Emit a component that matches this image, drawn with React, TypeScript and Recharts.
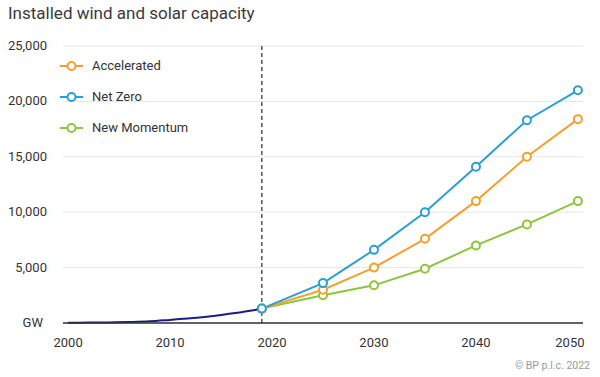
import React from "react";
import {
  LineChart, Line, XAxis, YAxis, CartesianGrid, ReferenceLine
} from "recharts";

const histYears = [2000, 2002, 2004, 2006, 2008, 2010, 2012, 2014, 2016, 2017, 2018, 2019];
const histValues = [20, 35, 55, 90, 150, 280, 420, 600, 850, 980, 1120, 1300];

const scenarioYears = [2019, 2025, 2030, 2035, 2040, 2045, 2050];
const accelerated = [1300, 3000, 5000, 7600, 11000, 15000, 18400];
const netZero = [1300, 3600, 6600, 10000, 14100, 18300, 21000];
const newMomentum = [1300, 2500, 3400, 4900, 7000, 8900, 11000];

const xTicks = [2000, 2010, 2020, 2030, 2040, 2050];
const yTicks = [0, 5000, 10000, 15000, 20000, 25000];

const COLORS = {
  hist: "#1c1c85",
  accelerated: "#f5a02e",
  netZero: "#2a9fd6",
  newMomentum: "#8cc63f",
};

const FONT = "Roboto, 'Noto Sans', sans-serif";

const histData = histYears.map((year, i) => ({ year, value: histValues[i] }));
const accData = scenarioYears.map((year, i) => ({ year, value: accelerated[i] }));
const nzData = scenarioYears.map((year, i) => ({ year, value: netZero[i] }));
const nmData = scenarioYears.map((year, i) => ({ year, value: newMomentum[i] }));

const legendItems = [
  { name: "Accelerated", color: COLORS.accelerated },
  { name: "Net Zero", color: COLORS.netZero },
  { name: "New Momentum", color: COLORS.newMomentum },
];

const LegendBox = () => (
  <div style={{ position: "absolute", left: 60, top: 50 }}>
    {legendItems.map((item) => (
      <div key={item.name} style={{ display: "flex", alignItems: "center", height: 31 }}>
        <svg width={23} height={12} style={{ marginRight: 9 }}>
          <line x1={0} y1={6} x2={23} y2={6} stroke={item.color} strokeWidth={2} />
          <circle cx={11.5} cy={6} r={4} fill="#fff" stroke={item.color} strokeWidth={2} />
        </svg>
        <span style={{ fontSize: 13, color: "#333", fontFamily: FONT }}>{item.name}</span>
      </div>
    ))}
  </div>
);

const YTick = ({ x, y, payload }: any) => {
  const label = payload.value === 0 ? "GW" : payload.value.toLocaleString("en-US");
  return (
    <text
      x={payload.value === 0 ? x - 4 : x}
      y={y}
      dy={4}
      textAnchor="end"
      fontSize={13}
      fill="#333"
      fontFamily={FONT}
    >
      {label}
    </text>
  );
};

const XTick = ({ x, y, payload }: any) => (
  <text
    x={payload.value === 2050 ? x - 8 : x}
    y={y}
    dy={10}
    textAnchor="middle"
    fontSize={13}
    fill="#333"
    fontFamily={FONT}
  >
    {payload.value}
  </text>
);

const dot = (color: string) => ({ r: 4, fill: "#fff", stroke: color, strokeWidth: 2 });

export default function App() {
  return (
    <div style={{ position: "absolute", left: 0, top: 0, width: 600, height: 377, background: "#fff", fontFamily: FONT }}>
      <div style={{ position: "absolute", left: 8, top: 3, fontSize: 17, color: "#3a3a3a" }}>
        Installed wind and solar capacity
      </div>
      <LineChart width={600} height={377} margin={{ top: 46, right: 17, left: 8, bottom: 24 }}>
        <CartesianGrid vertical={false} stroke="#e6e6e6" />
        <XAxis
          dataKey="year"
          type="number"
          domain={[1999.5, 2050.5]}
          ticks={xTicks}
          allowDataOverflow
          tickLine={false}
          axisLine={{ stroke: "#333", strokeWidth: 1.5 }}
          tick={<XTick />}
          tickMargin={8}
          height={30}
        />
        <YAxis
          type="number"
          domain={[0, 25000]}
          ticks={yTicks}
          axisLine={false}
          tickLine={false}
          tickMargin={10}
          width={55}
          tick={<YTick />}
        />
        <ReferenceLine x={2019} stroke="#555" strokeDasharray="4 3" strokeWidth={1.5} />
        <Line
          data={histData}
          dataKey="value"
          type="monotone"
          stroke={COLORS.hist}
          strokeWidth={2}
          dot={false}
          isAnimationActive={false}
        />
        <Line
          data={nmData}
          dataKey="value"
          name="New Momentum"
          stroke={COLORS.newMomentum}
          strokeWidth={2}
          dot={dot(COLORS.newMomentum)}
          isAnimationActive={false}
        />
        <Line
          data={accData}
          dataKey="value"
          name="Accelerated"
          stroke={COLORS.accelerated}
          strokeWidth={2}
          dot={dot(COLORS.accelerated)}
          isAnimationActive={false}
        />
        <Line
          data={nzData}
          dataKey="value"
          name="Net Zero"
          stroke={COLORS.netZero}
          strokeWidth={2}
          dot={dot(COLORS.netZero)}
          isAnimationActive={false}
        />
      </LineChart>
      <LegendBox />
      <div style={{ position: "absolute", right: 10, top: 359, fontSize: 10.5, color: "#999" }}>
        © BP p.l.c. 2022
      </div>
    </div>
  );
}
